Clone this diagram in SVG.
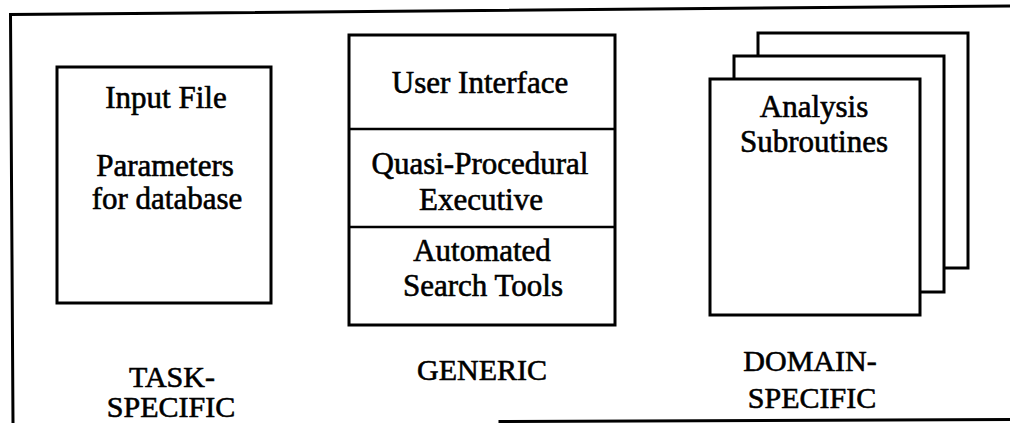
<svg xmlns="http://www.w3.org/2000/svg" width="1010" height="423" viewBox="0 0 1010 423">
  <style>
    .frame { fill: none; stroke: #000; stroke-width: 3; stroke-linecap: square; }
    .box { fill: #fff; stroke: #000; stroke-width: 3; }
    .rule { stroke: #000; stroke-width: 2.5; }
    text { font-family: "Liberation Serif", "Times New Roman", serif; font-size: 31px; fill: #000; stroke: #000; stroke-width: 0.6; text-anchor: middle; }
    .label { font-size: 30px; }
  </style>
  <rect width="1010" height="423" fill="#fff"/>

  <!-- outer frame: left and top edges, partial bottom rule -->
  <g id="frame">
    <polyline class="frame" points="13,423 10.5,14.5 1010,6"/>
    <line class="frame" x1="500" y1="421.5" x2="1010" y2="419.5"/>
  </g>

  <!-- task-specific input file -->
  <g id="input-file">
    <rect class="box" x="57" y="67" width="214" height="236"/>
    <text x="166" y="108">Input File</text>
    <text x="165" y="176">Parameters</text>
    <text x="167" y="209">for database</text>
  </g>

  <!-- generic layered core -->
  <g id="generic-core">
    <rect class="box" x="349" y="35" width="266" height="290"/>
    <line class="rule" x1="349" y1="129" x2="615" y2="129"/>
    <line class="rule" x1="349" y1="227" x2="615" y2="227"/>
    <text x="480" y="93">User Interface</text>
    <text x="480" y="174">Quasi-Procedural</text>
    <text x="481" y="210">Executive</text>
    <text x="482" y="261">Automated</text>
    <text x="483" y="296">Search Tools</text>
  </g>

  <!-- domain-specific subroutine pages, back to front -->
  <g id="analysis-subroutines">
    <rect class="box" x="758" y="33" width="210" height="235"/>
    <rect class="box" x="734" y="56" width="210" height="236"/>
    <rect class="box" x="710" y="79" width="210" height="236"/>
    <text x="814" y="117">Analysis</text>
    <text x="814" y="152">Subroutines</text>
  </g>

  <!-- category captions -->
  <g id="label-task">
    <text class="label" x="172" y="387">TASK-</text>
    <text class="label" x="171" y="417">SPECIFIC</text>
  </g>
  <g id="label-generic">
    <text class="label" x="482" y="380">GENERIC</text>
  </g>
  <g id="label-domain">
    <text class="label" x="810" y="371">DOMAIN-</text>
    <text class="label" x="812" y="408">SPECIFIC</text>
  </g>

  <g id="connectors"/>
</svg>
